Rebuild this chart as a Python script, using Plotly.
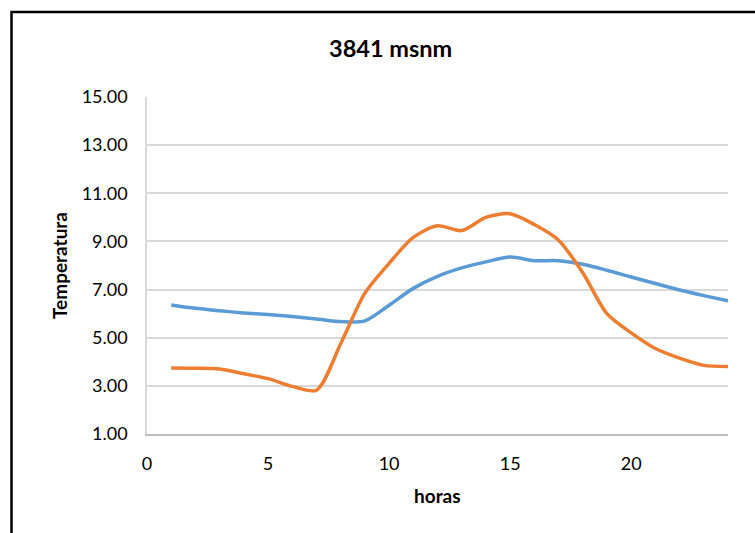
import plotly.graph_objects as go

# Hourly temperature readings at 3841 m a.s.l.
horas = list(range(1, 25))
serie_azul = [6.36, 6.22, 6.12, 6.03, 5.96, 5.88, 5.78, 5.67, 5.70, 6.35, 7.05, 7.55,
              7.90, 8.15, 8.35, 8.20, 8.20, 8.05, 7.80, 7.52, 7.25, 6.98, 6.75, 6.53]
serie_naranja = [3.74, 3.73, 3.70, 3.50, 3.30, 2.98, 2.82, 4.75, 6.85, 8.09, 9.17, 9.65,
                 9.45, 10.00, 10.15, 9.70, 9.05, 7.70, 6.00, 5.20, 4.55, 4.15, 3.85, 3.80]

titulo = "3841 msnm"
eje_x = "horas"
eje_y = "Temperatura"
y_ticks = [1, 3, 5, 7, 9, 11, 13, 15]
x_ticks = [0, 5, 10, 15, 20]

FONT = "Lato"
AZUL = "#5B9BD5"
NARANJA = "#ED7D31"

fig = go.Figure()
fig.add_trace(go.Scatter(x=horas, y=serie_azul, mode="lines",
                         line=dict(color=AZUL, width=3.5, shape="spline", smoothing=0.8),
                         showlegend=False))
fig.add_trace(go.Scatter(x=horas, y=serie_naranja, mode="lines",
                         line=dict(color=NARANJA, width=3.5, shape="spline", smoothing=0.8),
                         showlegend=False))

W, H = 755, 533
L, R, T, B = 147, 27, 97, 99
pw, ph = W - L - R, H - T - B

def px(x):
    return (x - L) / pw

def py(y):
    return (H - B - y) / ph

fig.update_layout(
    width=W, height=H,
    margin=dict(l=L, r=R, t=T, b=B),
    paper_bgcolor="white", plot_bgcolor="white",
    font=dict(family=FONT, color="#000000", size=18),
    xaxis=dict(range=[0, 24], tickvals=x_ticks, showgrid=False, zeroline=False,
               showline=True, linecolor="#BFBFBF", linewidth=1.5,
               ticks="", ticklabelstandoff=13, tickfont=dict(size=18, family=FONT)),
    yaxis=dict(range=[1, 15], tickvals=y_ticks, tickformat=".2f", showgrid=True,
               gridcolor="#D9D9D9", gridwidth=1.5, zeroline=False,
               showline=True, linecolor="#D9D9D9", linewidth=1.5,
               ticks="", ticklabelstandoff=14, tickfont=dict(size=18, family=FONT)),
    annotations=[
        dict(text="<b>" + titulo + "</b>", x=px(390), y=py(48), xref="paper", yref="paper",
             xanchor="center", yanchor="middle", showarrow=False,
             font=dict(size=23.5, family=FONT)),
        dict(text="<b>" + eje_x + "</b>", x=px(437), y=py(495), xref="paper", yref="paper",
             xanchor="center", yanchor="middle", showarrow=False,
             font=dict(size=19, family=FONT)),
        dict(text="<b>" + eje_y + "</b>", x=px(59), y=py(266), xref="paper", yref="paper",
             xanchor="center", yanchor="middle", showarrow=False, textangle=-90,
             font=dict(size=19, family=FONT)),
    ],
    shapes=[
        dict(type="rect", xref="paper", yref="paper",
             x0=px(11.5), x1=px(790), y0=py(560), y1=py(12),
             line=dict(color="black", width=2.5), fillcolor="rgba(0,0,0,0)", layer="above"),
    ],
)

fig.write_html("out.html")
